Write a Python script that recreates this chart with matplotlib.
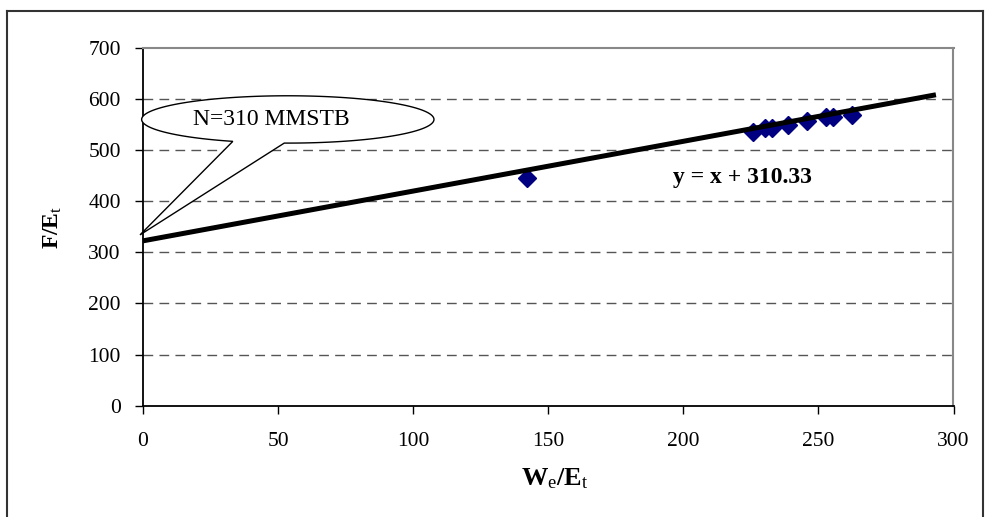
import numpy as np
import matplotlib
matplotlib.use("Agg")
import matplotlib.pyplot as plt
from matplotlib.path import Path
from matplotlib.patches import PathPatch
from matplotlib.lines import Line2D

plt.rcParams['font.family'] = ['Liberation Serif', 'DejaVu Serif']
plt.rcParams['mathtext.fontset'] = 'custom'
plt.rcParams['mathtext.rm'] = 'Liberation Serif'
plt.rcParams['mathtext.bf'] = 'Liberation Serif:bold'
plt.rcParams['mathtext.it'] = 'Liberation Serif:italic'

# ---- data ----
we_et = [142.0, 225.9, 230.2, 232.7, 238.8, 245.9, 252.8, 255.5, 262.3]
f_et = [446.5, 535.4, 543.3, 543.3, 548.4, 556.2, 564.0, 564.0, 569.3]
trend_slope = 0.974
trend_intercept = 322.6
trend_x = [0, 293.5]
x_ticks = [0, 50, 100, 150, 200, 250, 300]
y_ticks = [0, 100, 200, 300, 400, 500, 600, 700]
eq_text = "y = x + 310.33"
callout_text = "N=310 MMSTB"

W, H = 985, 517
fig = plt.figure(figsize=(W / 100, H / 100), dpi=100)
ax = fig.add_axes([143 / W, 1 - 405.7 / H, (953.5 - 143) / W, (405.7 - 48) / H])

ax.set_xlim(0, 300)
ax.set_ylim(0, 700)
ax.set_xticks(x_ticks)
ax.set_yticks(y_ticks)
ax.tick_params(axis='both', direction='out', length=6, width=1, labelsize=15.5, color='black')
ax.tick_params(axis='x', pad=13)
ax.tick_params(axis='y', pad=10)

for yv in y_ticks[1:-1]:
    ax.axhline(yv, color='#555555', lw=1, ls=(0, (7, 4.5)), zorder=1)

for s in ['left', 'bottom']:
    ax.spines[s].set_color('black')
    ax.spines[s].set_linewidth(1.3)
for s in ['top', 'right']:
    ax.spines[s].set_color('#888888')
    ax.spines[s].set_linewidth(1.5)

# trend line
tx = np.array(trend_x)
ax.plot(tx, trend_slope * tx + trend_intercept, color='black', lw=3.6, zorder=3,
        solid_capstyle='butt', clip_on=False)

# data points
ax.plot(we_et, f_et, 'D', color='#000080', markersize=9, zorder=2, clip_on=False)

# equation label
ax.text(196, 446, eq_text, fontsize=17, fontweight='bold', ha='left', va='center')

# callout
cx, cy, a, b = 53.6, 560.2, 54.1, 46.3
t = np.radians(np.linspace(-91.4, 247.9, 200))
ex = cx + a * np.cos(t)
ey = cy + b * np.sin(t)
verts = list(zip(ex, ey)) + [(-1.1, 334.3), (ex[0], ey[0])]
codes = [Path.MOVETO] + [Path.LINETO] * (len(verts) - 2) + [Path.CLOSEPOLY]
patch = PathPatch(Path(verts, codes), facecolor='white', edgecolor='black', lw=1.0,
                  zorder=4, clip_on=False)
ax.add_patch(patch)
ax.text(47.6, 561, callout_text, fontsize=17, ha='center', va='center', zorder=5)

# axis labels
fig.text(555 / W, 1 - 479 / H, r'$\mathbf{W}_{\mathrm{e}}\mathbf{/E}_{\mathrm{t}}$',
         fontsize=19, ha='center', va='center')
fig.text(53 / W, 1 - 227 / H, r'$\mathbf{F/E}_{\mathrm{t}}$', fontsize=17,
         rotation=90, ha='center', va='center')

# outer border
bc = '#333333'
fig.add_artist(Line2D([7 / W, 7 / W], [0, 1 - 11 / H], color=bc, lw=1.5))
fig.add_artist(Line2D([7 / W, 983 / W], [1 - 11 / H, 1 - 11 / H], color=bc, lw=1.5))
fig.add_artist(Line2D([983 / W, 983 / W], [0, 1 - 11 / H], color=bc, lw=1.5))

fig.savefig('out.png', dpi=100, facecolor='white')
